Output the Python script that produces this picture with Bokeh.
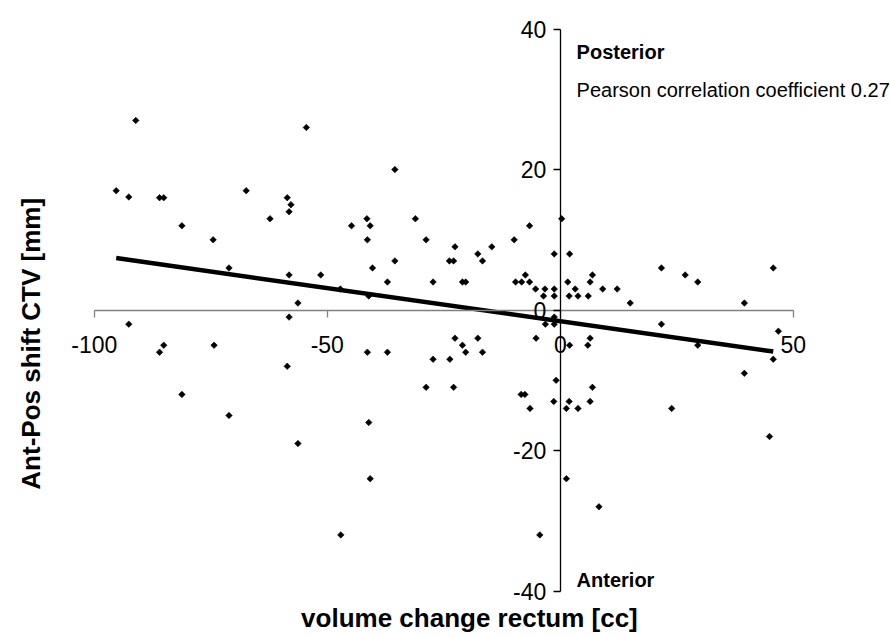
import numpy as np
from bokeh.plotting import figure
from bokeh.models import Range1d, FixedTicker, Label
from bokeh.embed import file_html
from bokeh.resources import INLINE

# ---- data ----
vol_change = [
    -91.1, -95.3, -92.6, -86.0, -85.1, -67.4, -58.6, -57.8, -58.2, -62.3,
    -81.2, -74.5, -71.1, -58.2, -56.3, -58.2, -92.6, -85.1, -86.0, -74.3,
    -58.6, -81.2, -71.1, -56.3, -54.5, -35.5, -44.8, -41.5, -40.8, -31.1,
    -41.4, -28.8, -22.6, -14.7, -17.7, -23.8, -22.9, -16.7, -35.5, -40.3,
    -51.4, -37.1, -27.3, -21.0, -20.3, -47.2, -41.1, -22.6, -17.7, -21.0,
    -41.4, -37.1, -20.3, -16.7, -27.3, -23.7, -28.8, -22.9, -41.1, -40.8,
    -47.1, 0.3, -6.6, -9.9, -1.3, 2.0, -9.6, -8.3, -7.5, -6.6,
    -5.3, -3.3, -1.3, -3.6, -1.3, 1.6, 3.2, 1.9, 3.8, 6.4,
    6.9, 6.0, 9.1, 12.2, 15.0, 21.7, 26.8, 29.5, 21.7, -3.2,
    -1.3, -1.3, -5.2, 6.4, 2.0, 5.9, 29.5, -0.9, -8.4, -7.6,
    -6.5, -1.4, 1.9, 1.3, 3.8, 6.9, 6.4, 23.9, 1.3, 8.3,
    -4.4, 45.7, 39.5, 46.8, 45.7, 39.5, 44.9,
]
ap_shift = [
    27.0, 17.0, 16.1, 16.0, 16.0, 17.0, 16.0, 15.0, 14.0, 13.0,
    12.0, 10.0, 6.0, 5.0, 1.0, -1.0, -2.0, -5.0, -6.0, -5.0,
    -8.0, -12.0, -15.0, -19.0, 26.0, 20.0, 12.0, 13.0, 12.0, 13.0,
    10.0, 10.0, 9.0, 9.0, 8.0, 7.0, 7.0, 7.0, 7.0, 6.0,
    5.0, 4.0, 4.0, 4.0, 4.0, 3.0, 2.0, -4.0, -4.0, -5.0,
    -6.0, -6.0, -6.0, -6.0, -7.0, -7.0, -11.0, -11.0, -16.0, -24.0,
    -32.0, 13.0, 12.0, 10.0, 8.0, 8.0, 4.0, 4.0, 5.0, 4.0,
    3.0, 3.0, 3.0, 2.0, 2.0, 4.0, 3.0, 2.0, 2.0, 4.0,
    5.0, 2.0, 3.0, 3.0, 1.0, 6.0, 5.0, 4.0, -2.0, -2.0,
    -1.0, -2.0, -4.0, -4.0, -5.0, -5.0, -5.0, -10.0, -12.0, -12.0,
    -14.0, -13.0, -13.0, -14.0, -14.0, -11.0, -13.0, -14.0, -24.0, -28.0,
    -32.0, 6.0, 1.0, -3.0, -7.0, -9.0, -18.0,
]
trend_x = [-95.3, 45.7]
trend_y = [7.4, -5.9]
x_ticks = [-100, -50, 0, 50]
y_ticks = [-40, -20, 0, 20, 40]

FONT = "Liberation Sans"

# the frame fills the whole canvas; axes cross at the origin
p = figure(width=890, height=638,
           x_range=Range1d(-120.13, 70.86), y_range=Range1d(-46.75, 44.07),
           output_backend="svg", toolbar_location=None,
           min_border_left=0, min_border_right=0,
           min_border_top=0, min_border_bottom=0)
p.grid.visible = False
p.outline_line_color = None
p.background_fill_color = "white"
p.border_fill_color = "white"

xa = p.xaxis[0]
ya = p.yaxis[0]
xa.fixed_location = 0
ya.fixed_location = 0
xa.ticker = FixedTicker(ticks=x_ticks)
ya.ticker = FixedTicker(ticks=y_ticks)
xa.bounds = (x_ticks[0], x_ticks[-1])
ya.bounds = (y_ticks[0], y_ticks[-1])
xa.major_label_overrides = {t: str(t) for t in x_ticks}
ya.major_label_overrides = {t: str(t) for t in y_ticks}

xa.axis_line_color = "#808080"
xa.axis_line_width = 1.3
xa.major_tick_line_color = "#808080"
xa.major_tick_line_width = 1.3
xa.major_tick_out = 7
xa.major_tick_in = 0
xa.minor_tick_line_color = None
xa.major_label_text_font = FONT
xa.major_label_text_font_size = "23px"
xa.major_label_text_color = "black"
xa.major_label_standoff = 19

ya.axis_line_color = "black"
ya.axis_line_width = 1.3
ya.major_tick_line_color = "black"
ya.major_tick_line_width = 1.3
ya.major_tick_out = 7
ya.major_tick_in = 0
ya.minor_tick_line_color = None
ya.major_label_text_font = FONT
ya.major_label_text_font_size = "23px"
ya.major_label_text_color = "black"
ya.major_label_standoff = 7

# data
p.scatter(vol_change, ap_shift, marker="square", angle=np.pi / 4, size=4.6,
          fill_color="black", line_color="black", line_width=0.6)
p.line(trend_x, trend_y, line_width=4.5, line_color="black")

# texts
p.add_layout(Label(x=3.5, y=36.7, text="Posterior", text_font=FONT,
                   text_font_style="bold", text_font_size="20px", text_color="black",
                   text_baseline="alphabetic", text_align="left"))
p.add_layout(Label(x=3.5, y=31.35, text="Pearson correlation coefficient 0.27",
                   text_font=FONT, text_font_size="20px", text_color="black",
                   text_baseline="alphabetic", text_align="left"))
p.add_layout(Label(x=3.5, y=-38.4, text="Anterior", text_font=FONT,
                   text_font_style="bold", text_font_size="20px", text_color="black",
                   text_baseline="alphabetic", text_align="left"))
p.add_layout(Label(x=-19.5, y=-43.8, text="volume change rectum [cc]",
                   text_font=FONT, text_font_style="bold", text_font_size="26px",
                   text_color="black", text_baseline="middle", text_align="center"))
p.add_layout(Label(x=-113.6, y=-4.8, text="Ant-Pos shift CTV [mm]", angle=np.pi / 2,
                   text_font=FONT, text_font_style="bold", text_font_size="26px",
                   text_color="black", text_baseline="middle", text_align="center"))

open("out.html", "w").write(file_html(p, INLINE))
